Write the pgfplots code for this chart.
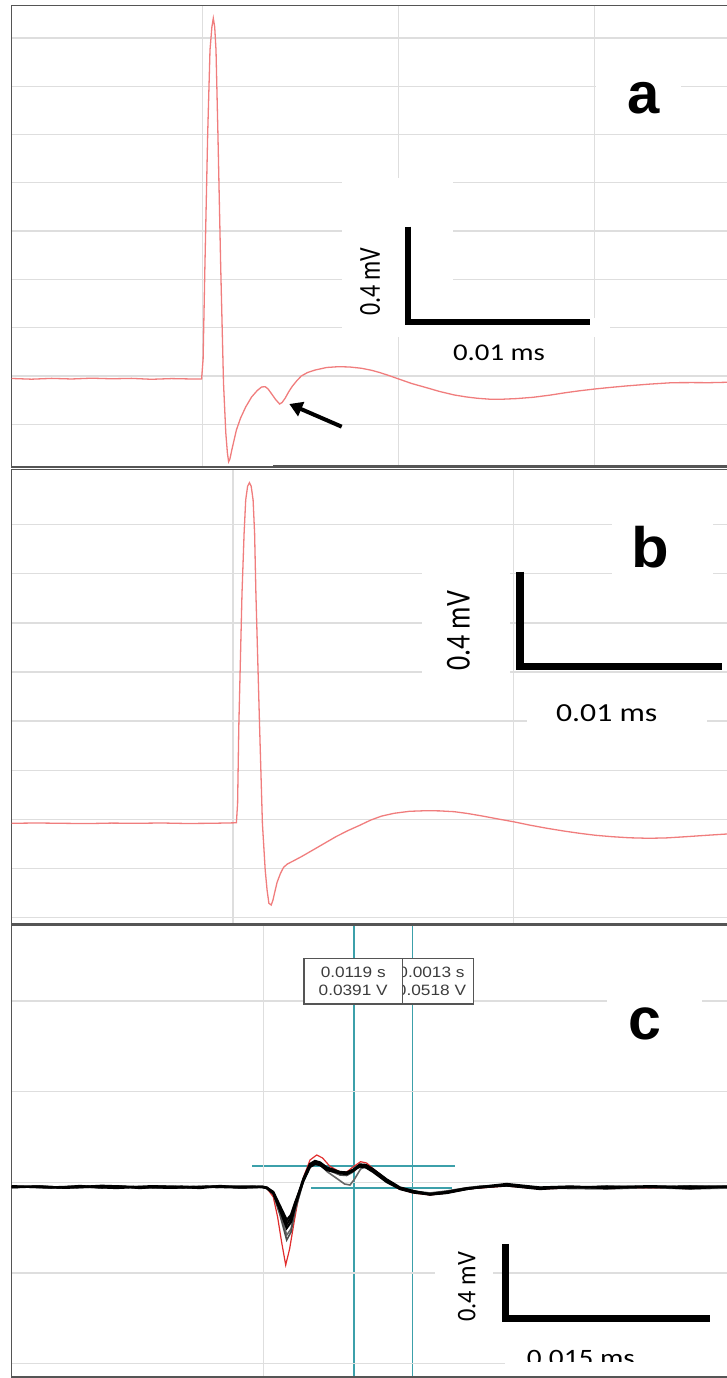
\documentclass[border=0pt]{standalone}
\usepackage{fontspec}
\setmainfont{Liberation Sans}
\newfontfamily\calib{Carlito}
\usepackage{graphicx}
\usepackage{pgfplots}
\pgfplotsset{compat=1.18}
\usetikzlibrary{arrows.meta}
\definecolor{tracec}{RGB}{240,125,125}
\definecolor{gridc}{RGB}{222,222,222}
\definecolor{framec}{RGB}{85,85,85}
\definecolor{tealc}{RGB}{60,160,170}
\definecolor{redc}{RGB}{225,45,45}
\definecolor{boxtxt}{RGB}{60,60,60}
\pgfplotsset{panel/.style={scale only axis, axis line style={draw=framec, line width=1.6pt},
  grid=major, major grid style={draw=gridc, line width=1.3pt},
  xticklabels={}, yticklabels={}, major tick length=0pt, tick style={draw=none},
  xmin=0, xmax=723.4, width=723.4pt, anchor=south west}}
\begin{document}
\begin{tikzpicture}[x=1pt,y=1pt]
\useasboundingbox (0,0) rectangle (727,1378);
\clip (0,0) rectangle (727,1378);
% ---------------- panel a ----------------
\begin{axis}[panel, at={(11.6,911)}, height=461.5pt, ymin=-88, ymax=373.5,
  xtick={191,387.1,583.2}, ytick={-45.3,3,51.3,99.6,147.9,196.2,244.5,292.8,341.1}]
\addplot[tracec, line width=1.3pt] coordinates {
(0,0.5)(20,-0.2)(40,0.6)(60,0)(80,0.8)(100,0.2)(120,0.6)(140,-0.3)(160,0.4)(180,0)(190,0)
(191.5,20)(193.3,112.3)(196.1,245.7)(198.4,329)(200.3,352)(201.7,360.7)(203.1,352)(204.4,329)
(206.3,246)(209.1,112.3)(211.9,-4)(214.2,-54)(215.8,-74)(217,-82.7)(218.3,-80)(220.2,-71)
(224.8,-51)(229,-39)(234.1,-28)(240,-18)(245.7,-11.5)(250,-8)(253.6,-7.7)(256.5,-10)(259.6,-14.3)
(264,-20.5)(268,-25)(270.5,-23.5)(273.5,-19.3)(277,-13)(280.4,-7.7)(285,-2)(289.7,3)(296,6.5)
(303.7,9)(315,11.5)(326.8,12.3)(338,12)(350,10.7)(360,8.7)(368.6,6.3)(378,3.2)(387.1,0)
(400,-4.5)(414.9,-8.7)(428,-12.5)(442.7,-16)(455,-18)(465.9,-19.3)(478,-20.2)(489.1,-20.3)
(505,-19.6)(521.5,-18.3)(538,-16.2)(554,-13.7)(568,-11.8)(583.2,-10)(598,-8.5)(614.3,-7)
(637,-5.2)(660.6,-3.7)(680,-3.6)(697.7,-3.7)(715.4,-3.3)(723.4,-3.2)};
\end{axis}
% ---------------- panel b ----------------
\begin{axis}[panel, at={(11.6,453.7)}, height=454.8pt, ymin=-101, ymax=353.8,
  xtick={221.4,501.6}, ytick={-94.2,-45.1,4,53.1,102.2,151.3,200.4,249.5,298.6}]
\addplot[tracec, line width=1.3pt] coordinates {
(0,0)(25,0.3)(50,0)(75,-0.3)(100,0.2)(125,0)(150,0.3)(175,-0.2)(200,0)(224.8,0.5)
(226,20)(227.2,96.6)(230.4,230)(232.5,290)(234.1,323.3)(236,337)(237.8,340.6)(239.6,337)
(241.5,323.3)(243,290)(244.3,230)(248,96.6)(250.8,0)(253.6,-46.7)(255.5,-67)(257.3,-80)
(259.6,-81.7)(261.3,-77)(262.9,-70)(265.5,-59)(268.9,-50)(272,-44)(275.8,-40.7)(282,-37.5)
(289.7,-33.4)(300,-27.5)(312.9,-20)(324.5,-13.3)(336.1,-7.4)(347.7,-2.2)(359.3,3.3)(370,7.2)
(382.5,10)(398,12)(414.9,12.6)(428,12.4)(442.7,11.6)(456,9.8)(470.6,7.3)(486,4.4)(501.6,1.6)
(518,-1.8)(535.4,-5)(552,-7.7)(567.9,-10)(584,-12)(600.4,-13.4)(618,-14.5)(637.4,-15)
(655,-14.6)(674.5,-13.4)(695,-12)(715.4,-10.7)(723.4,-10.2)};
\end{axis}
% ---------------- panel c: cursor lines (under the traces) ----------------
\begin{scope}[shift={(0,1378)}, yscale=-1]
\draw[draw=tealc, line width=1.7pt] (353.7,925) -- (353.7,1377);
\draw[draw=tealc, line width=1.7pt] (412.6,925) -- (412.6,1377);
\draw[draw=tealc, line width=1.7pt] (252,1165.7) -- (455,1165.7);
\draw[draw=tealc, line width=1.7pt] (311,1188) -- (452,1188);
\end{scope}
% ---------------- panel c ----------------
\begin{axis}[panel, at={(11.6,1.3)}, height=451.7pt, ymin=-189.7, ymax=262,
  xtick={251.7}, ytick={-176.7,-86,4.5,95.3,186}]
% red trace
\addplot[redc, line width=1.2pt] coordinates {
(0,0)(50,0)(100,0.5)(150,0)(200,0)(250.4,0)(255.1,-1)(261.7,-10)(266,-30)(270,-55)(274.1,-78)
(278,-62)(282,-38)(287,-10)(292,10)(298.4,27)(305.1,32)(311,29)(318,21)(328.4,15)(335.1,15)
(341.4,20)(349,25.3)(355,24)(362,18)(375.1,7)(388.4,-2)(401.7,-6)(418.4,-8)(435.1,-6)
(455.1,-2)(468.4,-1)(495.1,1)(528.4,-2)(558.4,-1)(595.1,-1.5)(638.4,-1)(678.4,-1.5)(715.4,-0.5)(723.4,-0.5)};
% grey traces
\addplot[black!60, line width=1.6pt] coordinates {
(0,-0.5)(30,0.8)(65,-1)(100,0.5)(135,-0.5)(170,1)(205,-0.5)(240,0.5)(252,0)(257,-1.5)(263,-8)
(269,-27)(275.1,-48)(279.4,-42)(284,-22)(291.7,6)(298.4,21)(303.4,24)(309,22)(316,15)(326,8)
(333,3)(338.4,2)(343,8)(349,18)(355,21)(362,16)(375.1,6)(388.4,-2)(401.7,-5)(418.4,-6.5)
(435.1,-4.5)(455.1,-1)(468.4,0.5)(495.1,2.5)(528.4,-1)(558.4,-1.5)(595.1,-2)(638.4,-0.5)(678.4,-2)(715.4,-1)(723.4,-1)};
\addplot[black!70, line width=1.6pt] coordinates {
(0,0.3)(40,-0.8)(80,0.6)(120,-0.2)(160,-1)(200,0.5)(250.4,-0.5)(255.1,-1.5)(261.7,-7)(268.4,-28)
(275.1,-53)(279.4,-45)(283.4,-23)(291.7,5)(298.4,21)(303.4,24.5)(308.4,23)(315.1,17.5)(328.4,12)
(335.1,11.5)(341.4,15)(348.4,21)(354.4,20.5)(361.7,16.5)(375.1,6.5)(388.4,-1)(401.7,-4)(418.4,-6)
(435.1,-4)(455.1,-0.8)(468.4,0.8)(495.1,1)(528.4,-0.5)(558.4,-1)(595.1,1)(638.4,-0.8)(678.4,1)(715.4,-0.5)(723.4,-0.5)};
% black traces
\addplot[black, line width=2.3pt] coordinates {
(0,0)(28.4,0.5)(48.4,-0.5)(68.4,1)(88.4,-0.5)(108.4,0.5)(128.4,-1)(148.4,0.5)(168.4,0)(188.4,-1)
(208.4,1)(228.4,-0.5)(250.4,0)(255.1,-1)(261.7,-6.3)(268.4,-23)(275.1,-41)(279.4,-35)(283.4,-19.7)
(291.7,7)(298.4,22)(303.4,25.3)(308.4,24)(315.1,18.7)(328.4,13.7)(335.1,13)(341.4,16)(348.4,22)
(354.4,21)(361.7,17)(375.1,7)(388.4,-1.3)(401.7,-4.7)(418.4,-7)(435.1,-5)(455.1,-1.3)(468.4,-0.5)
(495.1,2)(528.4,-1.3)(558.4,-0.5)(595.1,0.3)(638.4,0)(678.4,0.5)(715.4,0.5)(723.4,0.5)};
\addplot[black, line width=2.3pt] coordinates {
(0,0.8)(35,-0.5)(70,0.5)(105,-1)(140,0.8)(175,-0.3)(210,0.6)(250.4,0.3)(255.1,-0.5)(261.7,-5)
(268.4,-19)(275.1,-33)(279.4,-28)(283.4,-16)(291.7,6)(298.4,20)(303.4,23)(308.4,22)(315.1,17)
(328.4,14)(335.1,14)(341.4,17)(348.4,20.5)(354.4,19.5)(361.7,15)(375.1,5)(388.4,-2)(401.7,-5.5)
(418.4,-7.5)(435.1,-5.5)(455.1,-2)(468.4,-0.3)(495.1,1.5)(528.4,-2)(558.4,0)(595.1,-0.5)(638.4,0.8)(678.4,-0.3)(715.4,0)(723.4,0)};
\addplot[black, line width=2.3pt] coordinates {
(0,-0.3)(25,0.5)(55,-0.8)(90,1.2)(125,0)(160,-0.8)(195,0.4)(230,-0.6)(250.4,0.3)(255.1,-0.8)
(261.7,-6)(268.4,-21)(275.1,-37)(279.4,-31)(283.4,-18)(291.7,8)(298.4,23)(303.4,26)(308.4,24.5)
(315.1,19.5)(328.4,15)(335.1,14.5)(341.4,17)(348.4,22.5)(354.4,22)(361.7,17.5)(375.1,7.5)(388.4,-0.5)
(401.7,-4)(418.4,-7.5)(435.1,-6)(455.1,-2)(468.4,0)(495.1,3)(528.4,-0.5)(558.4,0.5)(595.1,-1)(638.4,0.3)(678.4,-1.3)(715.4,0.3)(723.4,0.3)};
\end{axis}
% ---------------- annotations (image pixel coordinates) ----------------
\begin{scope}[shift={(0,1378)}, yscale=-1]
% panel a
\draw[framec, line width=2.5pt] (273,466) -- (727,466);
\fill[white] (341.7,178) rectangle (453.3,337);
\fill[white] (453.3,318) rectangle (610,337);
\fill[white] (596,78) rectangle (681,94);
\node[inner sep=0, font=\fontsize{58}{60}\selectfont\bfseries] at (644,98.3) {a};
\draw[black, line width=6.5pt] (408.2,226.7) -- (408.2,322) -- (590,322);
\node[inner sep=0, rotate=90] at (370,281.7) {\scalebox{1}[1.27]{\calib\fontsize{24}{28}\selectfont 0.4 mV}};
\node[inner sep=0] at (499,352.5) {\scalebox{1.2}[1]{\calib\fontsize{24}{28}\selectfont 0.01 ms}};
\draw[black, line width=4pt, -{Triangle[length=13pt,width=15pt]}] (341.7,426.7) -- (289.3,404);
% panel b
\fill[white] (421.7,565) rectangle (510,678);
\fill[white] (611.7,518) rectangle (713.3,578);
\fill[white] (526.7,698) rectangle (706.7,730);
\node[inner sep=0, font=\fontsize{57}{60}\selectfont\bfseries] at (650.5,547.5) {\scalebox{1.08}[1]{b}};
\draw[black, line width=7.5pt] (520,571.7) -- (520,666.7) -- (721.7,666.7);
\node[inner sep=0, rotate=90] at (458.3,630.8) {\scalebox{1}[1.25]{\calib\fontsize{28}{32}\selectfont 0.4 mV}};
\node[inner sep=0] at (606.7,713.5) {\scalebox{1.22}[1]{\calib\fontsize{26}{30}\selectfont 0.01 ms}};
% panel c
\fill[white] (607,992) rectangle (702,1045);
\fill[white] (435,1245) rectangle (493.3,1328);
\fill[white] (505,1338) rectangle (727,1370);
\node[inner sep=0, font=\fontsize{59}{60}\selectfont\bfseries] at (644.9,1024.2) {c};
\draw[black, line width=7pt] (505.5,1244) -- (505.5,1319) -- (710,1319);
\node[inner sep=0, rotate=90] at (466.7,1286.7) {\scalebox{1}[1.1]{\calib\fontsize{24.4}{28}\selectfont 0.4 mV}};
\begin{scope}
\clip (500,1335) rectangle (727,1361.7);
\node[inner sep=0, anchor=north] at (580.8,1350) {\scalebox{1.17}[1]{\calib\fontsize{25}{30}\selectfont 0.015 ms}};
\end{scope}
% cursor readout boxes
\filldraw[fill=white, draw=framec, line width=1.2pt] (378.7,958.3) rectangle (473.3,1004);
\node[inner sep=0, text=boxtxt] at (431.5,972.3) {\scalebox{1.15}[1]{\fontsize{15}{18}\selectfont 0.0013 s}};
\node[inner sep=0, text=boxtxt] at (431.5,990.7) {\scalebox{1.15}[1]{\fontsize{15}{18}\selectfont 0.0518 V}};
\filldraw[fill=white, draw=framec, line width=1.2pt] (304,958.3) rectangle (402.3,1004);
\node[inner sep=0, text=boxtxt] at (353.2,972.3) {\scalebox{1.15}[1]{\fontsize{15}{18}\selectfont 0.0119 s}};
\node[inner sep=0, text=boxtxt] at (353.2,990.7) {\scalebox{1.15}[1]{\fontsize{15}{18}\selectfont 0.0391 V}};
\end{scope}
\end{tikzpicture}
\end{document}
